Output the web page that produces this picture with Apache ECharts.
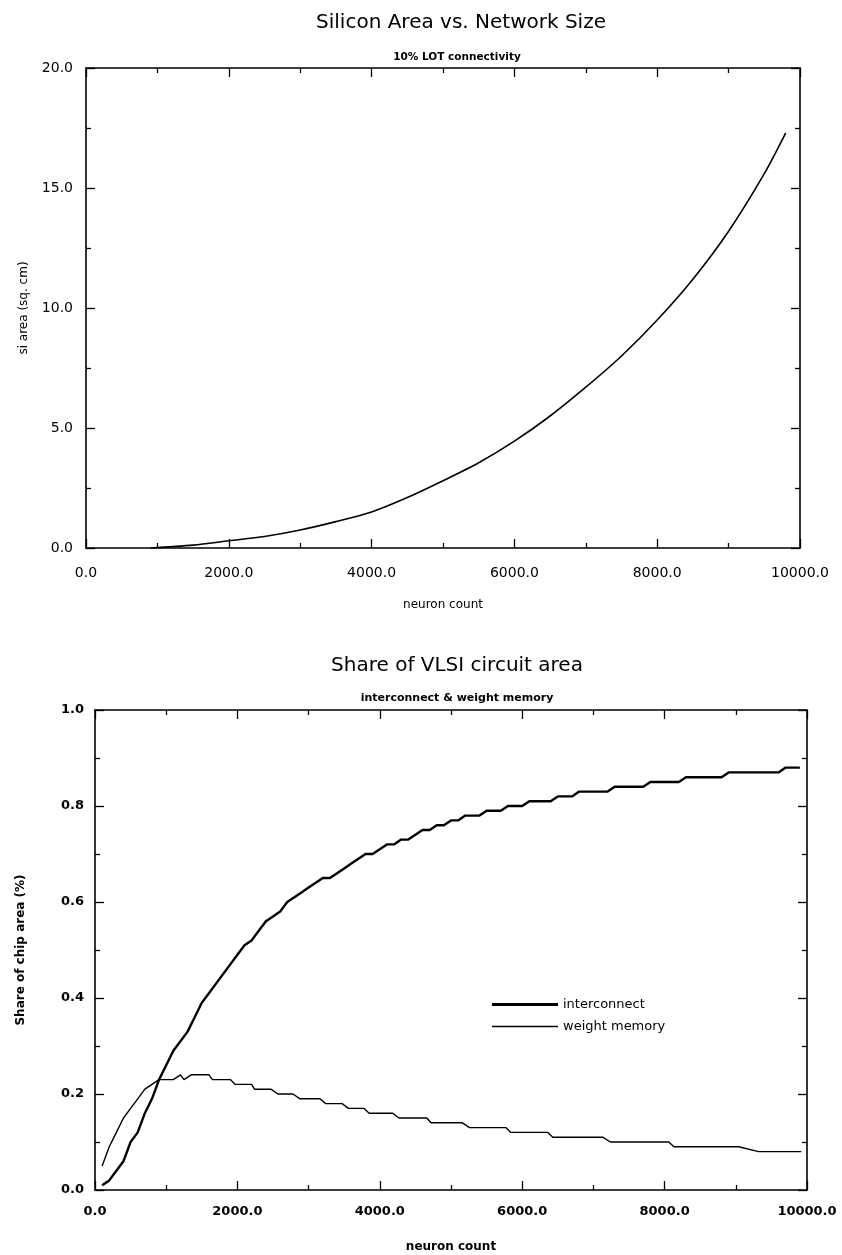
<!DOCTYPE html>
<html><head><meta charset="utf-8">
<script src="https://cdn.jsdelivr.net/npm/echarts@6/dist/echarts.min.js"></script>
<style>html,body{margin:0;padding:0;background:#fff}#c{width:842px;height:1255px}</style>
</head><body><div id="c"></div>
<script>
// ---- data: Silicon Area vs. Network Size ----
const areaNeurons = [900, 1500, 2000, 2500, 3000, 3500, 4000, 4500, 5000, 5500, 6000, 6500, 7000, 7500, 8000, 8500, 9000, 9500, 9800];
const areaValues  = [0, 0.12, 0.3, 0.48, 0.75, 1.1, 1.5, 2.1, 2.8, 3.55, 4.45, 5.5, 6.7, 8.0, 9.5, 11.2, 13.2, 15.6, 17.3];

// ---- data: Share of VLSI circuit area ----
const icNeurons = [100, 200, 300, 400, 500, 600, 700, 800, 900, 1000, 1100, 1200, 1300, 1400, 1500, 1600, 1700, 1800, 1900, 2000,
  2100, 2200, 2300, 2400, 2500, 2600, 2700, 2800, 2900, 3000, 3100, 3200, 3300, 3400, 3500, 3600, 3700, 3800, 3900, 4000,
  4100, 4200, 4300, 4400, 4500, 4600, 4700, 4800, 4900, 5000, 5100, 5200, 5400, 5500, 5700, 5800, 6000, 6100, 6400, 6500,
  6700, 6800, 7200, 7300, 7700, 7800, 8200, 8300, 8800, 8900, 9600, 9700, 9900];
const icShare = [0.01, 0.02, 0.04, 0.06, 0.10, 0.12, 0.16, 0.19, 0.23, 0.26, 0.29, 0.31, 0.33, 0.36, 0.39, 0.41, 0.43, 0.45, 0.47, 0.49,
  0.51, 0.52, 0.54, 0.56, 0.57, 0.58, 0.60, 0.61, 0.62, 0.63, 0.64, 0.65, 0.65, 0.66, 0.67, 0.68, 0.69, 0.70, 0.70, 0.71,
  0.72, 0.72, 0.73, 0.73, 0.74, 0.75, 0.75, 0.76, 0.76, 0.77, 0.77, 0.78, 0.78, 0.79, 0.79, 0.80, 0.80, 0.81, 0.81, 0.82,
  0.82, 0.83, 0.83, 0.84, 0.84, 0.85, 0.85, 0.86, 0.86, 0.87, 0.87, 0.88, 0.88];

const wmNeurons = [100, 200, 300, 400, 500, 600, 700, 800, 900, 1100, 1200, 1250, 1350, 1600, 1650, 1900, 1970, 2200, 2240, 2470,
  2570, 2780, 2880, 3160, 3240, 3470, 3560, 3780, 3850, 4180, 4270, 4660, 4720, 5160, 5260, 5770, 5840, 6360, 6430, 7130,
  7240, 8060, 8130, 9040, 9320, 9920];
const wmShare = [0.05, 0.09, 0.12, 0.15, 0.17, 0.19, 0.21, 0.22, 0.23, 0.23, 0.24, 0.23, 0.24, 0.24, 0.23, 0.23, 0.22, 0.22, 0.21, 0.21,
  0.20, 0.20, 0.19, 0.19, 0.18, 0.18, 0.17, 0.17, 0.16, 0.16, 0.15, 0.15, 0.14, 0.14, 0.13, 0.13, 0.12, 0.12, 0.11, 0.11,
  0.10, 0.10, 0.09, 0.09, 0.08, 0.08];

const seriesNames = ['interconnect', 'weight memory'];

// ---- build ----
const zip = (xs, ys) => xs.map((x, i) => [x, ys[i]]);
const fmt1 = v => v.toFixed(1);
const K = '#000';
const FONT = 'DejaVu Sans';

function xAxis(grid, pos, labels, bold, name, nameGap, margin) {
  return {
    gridIndex: grid, type: 'value', position: pos, min: 0, max: 10000, interval: 2000,
    axisLine: { show: true, onZero: false, lineStyle: { color: K, width: 1.6 } },
    axisTick: { show: true, inside: true, length: 9, lineStyle: { color: K, width: 1.3 } },
    minorTick: { show: true, splitNumber: 2, length: 5, lineStyle: { color: K, width: 1.3 } },
    splitLine: { show: false }, minorSplitLine: { show: false },
    axisLabel: { show: labels, formatter: fmt1, color: K, fontFamily: FONT, fontSize: bold ? 13 : 14,
      fontWeight: bold ? 'bold' : 'normal', margin: margin, showMinLabel: true, showMaxLabel: true },
    name: name, nameLocation: 'middle', nameGap: nameGap,
    nameTextStyle: { color: K, fontFamily: FONT, fontSize: 12, fontWeight: bold ? 'bold' : 'normal' }
  };
}
function yAxis(grid, pos, labels, bold, max, interval, name, nameGap, margin) {
  return {
    gridIndex: grid, type: 'value', position: pos, min: 0, max: max, interval: interval,
    axisLine: { show: true, onZero: false, lineStyle: { color: K, width: 1.6 } },
    axisTick: { show: true, inside: true, length: 9, lineStyle: { color: K, width: 1.3 } },
    minorTick: { show: true, splitNumber: 2, length: 5, lineStyle: { color: K, width: 1.3 } },
    splitLine: { show: false }, minorSplitLine: { show: false },
    axisLabel: { show: labels, formatter: fmt1, color: K, fontFamily: FONT, fontSize: bold ? 13 : 14,
      fontWeight: bold ? 'bold' : 'normal', margin: margin, showMinLabel: true, showMaxLabel: true },
    name: name, nameLocation: 'middle', nameGap: nameGap, nameRotate: 90,
    nameTextStyle: { color: K, fontFamily: FONT, fontSize: 12, fontWeight: bold ? 'bold' : 'normal' }
  };
}

const chart = echarts.init(document.getElementById('c'));
chart.setOption({
  animation: false,
  backgroundColor: '#fff',
  title: [
    { text: 'Silicon Area vs. Network Size', left: 456, top: 8, textAlign: 'center',
      textStyle: { fontFamily: FONT, fontSize: 20, fontWeight: 'normal', color: K } },
    { text: '10% LOT connectivity', left: 452, top: 47, textAlign: 'center',
      textStyle: { fontFamily: FONT, fontSize: 10.5, fontWeight: 'bold', color: K } },
    { text: 'Share of VLSI circuit area', left: 452, top: 651, textAlign: 'center',
      textStyle: { fontFamily: FONT, fontSize: 20, fontWeight: 'normal', color: K } },
    { text: 'interconnect & weight memory', left: 452, top: 688, textAlign: 'center',
      textStyle: { fontFamily: FONT, fontSize: 11, fontWeight: 'bold', color: K } }
  ],
  grid: [
    { left: 86, top: 68, width: 714, height: 480 },
    { left: 95, top: 710, width: 712, height: 480 }
  ],
  xAxis: [
    xAxis(0, 'bottom', true, false, 'neuron count', 51, 18),
    xAxis(0, 'top', false, false, '', 0, 8),
    xAxis(1, 'bottom', true, true, 'neuron count', 51, 15),
    xAxis(1, 'top', false, true, '', 0, 8)
  ],
  yAxis: [
    yAxis(0, 'left', true, false, 20, 5, 'si area (sq. cm)', 56, 13),
    yAxis(0, 'right', false, false, 20, 5, '', 0, 8),
    yAxis(1, 'left', true, true, 1, 0.2, 'Share of chip area (%)', 68, 11),
    yAxis(1, 'right', false, true, 1, 0.2, '', 0, 8)
  ],
  legend: {
    data: [
      { name: seriesNames[0], icon: 'path://M0,0H66V3H0Z' },
      { name: seriesNames[1], icon: 'path://M0,0H66V1.6H0Z' }
    ],
    orient: 'vertical', left: 487, top: 993,
    itemWidth: 66, itemHeight: 10, itemGap: 9, symbolKeepAspect: true,
    textStyle: { color: K, fontFamily: FONT, fontSize: 13 }
  },
  series: [
    { name: 'si area', type: 'line', xAxisIndex: 0, yAxisIndex: 0, data: zip(areaNeurons, areaValues),
      symbol: 'none', smooth: 0.3, lineStyle: { color: K, width: 1.6 }, itemStyle: { color: K } },
    { name: seriesNames[0], type: 'line', xAxisIndex: 2, yAxisIndex: 2, data: zip(icNeurons, icShare),
      symbol: 'none', lineStyle: { color: K, width: 2.4 }, itemStyle: { color: K } },
    { name: seriesNames[1], type: 'line', xAxisIndex: 2, yAxisIndex: 2, data: zip(wmNeurons, wmShare),
      symbol: 'none', lineStyle: { color: K, width: 1.4 }, itemStyle: { color: K } }
  ]
});
</script></body></html>
